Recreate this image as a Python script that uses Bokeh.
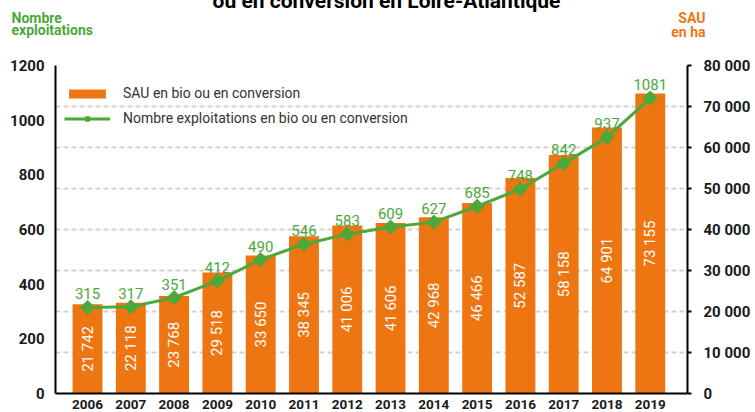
import math
from bokeh.plotting import figure
from bokeh.layouts import column
from bokeh.models import (Range1d, LinearAxis, FixedTicker, Label, Legend,
                          LegendItem, ColumnDataSource, Grid)
from bokeh.core.properties import value
from bokeh.embed import file_html
from bokeh.resources import INLINE

# ---- data ----
years = [2006, 2007, 2008, 2009, 2010, 2011, 2012, 2013, 2014, 2015, 2016, 2017, 2018, 2019]
sau_ha = [21742, 22118, 23768, 29518, 33650, 38345, 41006, 41606, 42968, 46466, 52587, 58158, 64901, 73155]
nb_exploitations = [315, 317, 351, 412, 490, 546, 583, 609, 627, 685, 748, 842, 937, 1081]
left_ticks = [0, 200, 400, 600, 800, 1000, 1200]
right_ticks = [0, 10000, 20000, 30000, 40000, 50000, 60000, 70000, 80000]

title_text = "ou en conversion en Loire-Atlantique"
left_title = ["Nombre", "exploitations"]
right_title = ["SAU", "en ha"]
bar_name = "SAU en bio ou en conversion"
line_name = "Nombre exploitations en bio ou en conversion"

ORANGE = "#EE7612"
GREEN = "#4BA83A"
FONT = "Roboto"
DARK = "#1a1a1a"
W = 753


def fmt(v):
    return f"{v:,}".replace(",", " ")


src = ColumnDataSource(dict(
    year=years,
    sau=sau_ha,
    sau_mid=[v / 2 for v in sau_ha],
    sau_lbl=[fmt(v) for v in sau_ha],
    nb=nb_exploitations,
    nb_lbl=[str(v) for v in nb_exploitations],
))

# ---- header (title + axis names) ----
h = figure(width=W, height=73, output_backend="svg", toolbar_location=None,
           x_range=Range1d(0, 1), y_range=Range1d(0, 1),
           x_axis_location=None, y_axis_location=None, min_border=0)
h.outline_line_color = None
h.grid.visible = False
h.background_fill_color = "white"
h.border_fill_color = "white"
if "frame_align" in h.properties():
    h.frame_align = False


def lab(x, y, text, color, size, align="left"):
    h.add_layout(Label(x=x, y=y, x_units="screen", y_units="screen", text=text,
                       text_color=color, text_font=FONT, text_font_size=size,
                       text_font_style="bold", text_align=align,
                       text_baseline="alphabetic"))


lab(386, 53, title_text, "black", "21px", align="center")
lab(11, 35.3, left_title[0], GREEN, "14px")
lab(11, 23.6, left_title[1], GREEN, "14px")
lab(705, 35.3, right_title[0], ORANGE, "14px", align="right")
lab(705, 22, right_title[1], ORANGE, "14px", align="right")

# ---- main chart ----
p = figure(width=W, height=375, output_backend="svg", toolbar_location=None,
           x_range=Range1d(2005.26, 2019.86), y_range=Range1d(0, 1200),
           min_border_left=55, min_border_right=66, min_border_top=12,
           min_border_bottom=35)
p.outline_line_color = None
p.background_fill_color = "white"
p.border_fill_color = "white"
p.extra_y_ranges = {"sau": Range1d(0, 80000)}
if "frame_align" in p.properties():
    p.frame_align = False

# grid (follows right axis)
p.xgrid.visible = False
p.ygrid.visible = False
grid = Grid(dimension=1, ticker=FixedTicker(ticks=right_ticks), y_range_name="sau",
            grid_line_color="#d2d2d2", grid_line_width=2, grid_line_dash="5 3")
p.add_layout(grid)

# x axis
xa = p.xaxis[0]
xa.ticker = FixedTicker(ticks=years)
xa.axis_line_width = 2
xa.axis_line_color = "black"
xa.major_tick_in = 0
xa.major_tick_out = 0
xa.minor_tick_line_color = None
xa.major_label_standoff = 6
xa.major_label_text_font = FONT
xa.major_label_text_font_style = "bold"
xa.major_label_text_font_size = "13.5px"
xa.major_label_text_color = DARK

# left axis
ya = p.yaxis[0]
ya.ticker = FixedTicker(ticks=left_ticks)
ya.axis_line_width = 2
ya.axis_line_color = "black"
ya.major_tick_in = 0
ya.major_tick_out = 0
ya.minor_tick_line_color = None
ya.major_label_standoff = 11
ya.major_label_text_font = FONT
ya.major_label_text_font_style = "bold"
ya.major_label_text_font_size = "15px"
ya.major_label_text_color = DARK

# right axis
ra = LinearAxis(y_range_name="sau", ticker=FixedTicker(ticks=right_ticks))
ra.major_label_overrides = {t: fmt(t) for t in right_ticks}
ra.axis_line_width = 2
ra.axis_line_color = "black"
ra.major_tick_in = 0
ra.major_tick_out = 4
ra.major_tick_line_width = 2
ra.minor_tick_line_color = None
ra.major_label_standoff = 12
ra.major_label_text_font = FONT
ra.major_label_text_font_style = "bold"
ra.major_label_text_font_size = "15px"
ra.major_label_text_color = DARK
p.add_layout(ra, "right")

# bars
bars = p.vbar(x="year", top="sau", width=0.69, y_range_name="sau",
              fill_color=ORANGE, line_color=None, source=src)
p.text(x="year", y="sau_mid", text="sau_lbl", angle=math.pi / 2, y_range_name="sau",
       text_color="white", text_font=value(FONT), text_font_size="15px",
       text_align="center", text_baseline="middle", source=src)

# line
ln = p.line(x="year", y="nb", line_color=GREEN, line_width=3, source=src)
sc = p.scatter(x="year", y="nb", marker="square", angle=math.pi / 4, size=10,
               fill_color=GREEN, line_color=GREEN, source=src)
p.text(x="year", y="nb", text="nb_lbl", y_offset=-8, text_color=GREEN,
       text_font=value(FONT), text_font_size="15px", text_align="center",
       text_baseline="bottom", source=src)

legend = Legend(items=[LegendItem(label=bar_name, renderers=[bars]),
                       LegendItem(label=line_name, renderers=[ln, sc])],
                location=(9, 265), padding=0, margin=0, spacing=5,
                glyph_width=46, glyph_height=11, label_height=20, label_standoff=13,
                label_text_font=FONT, label_text_font_size="14px", label_text_color="#333333",
                border_line_color=None, background_fill_alpha=0)
p.add_layout(legend)

layout = column(h, p, spacing=0, margin=(-20, 0, -40, 0))
open("out.html", "w").write(file_html(layout, INLINE))
